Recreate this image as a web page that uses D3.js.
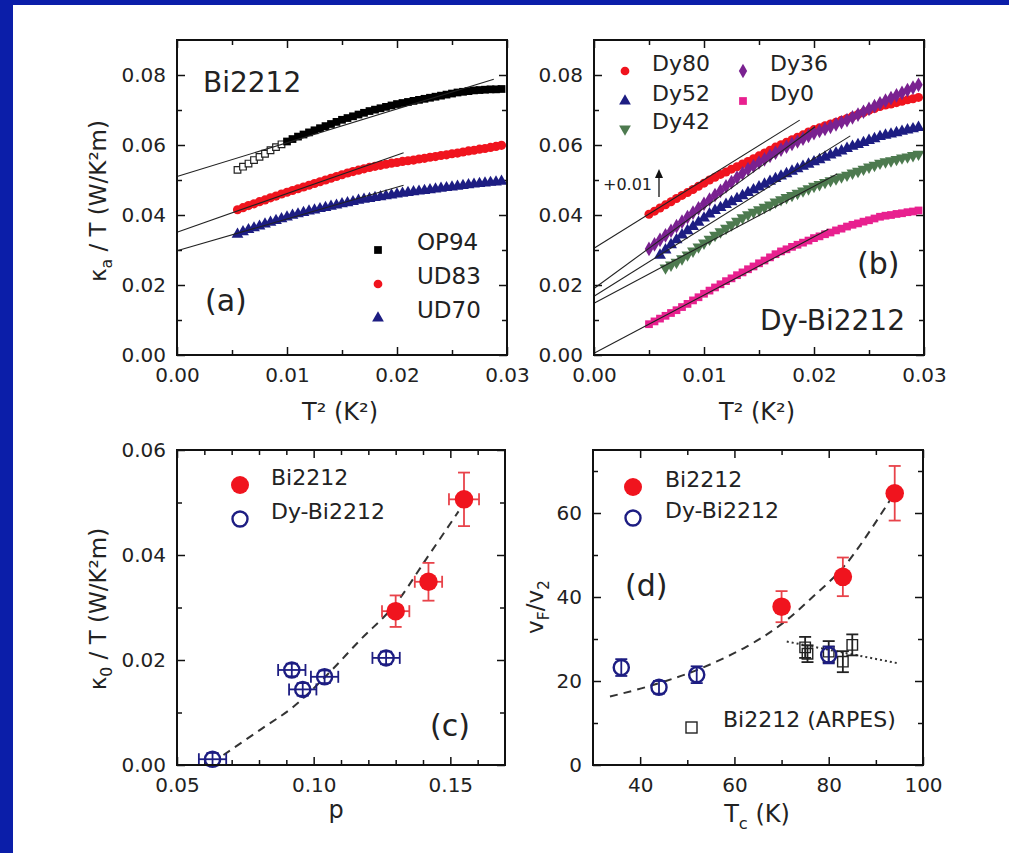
<!DOCTYPE html>
<meta charset="utf-8">
<style>
body { margin: 0; background: #fff; }
svg { display: block; font-family: "DejaVu Sans", sans-serif; }
.tick line { stroke: #111; stroke-width: 1.5; }
.tick text { font-family: "DejaVu Sans", sans-serif; font-size: 20px; fill: #222; }
.lbl { font-family: "DejaVu Sans", sans-serif; fill: #222; }
</style>
<svg width="1009" height="853"></svg>
<script src="https://d3js.org/d3.v7.min.js"></script>
<script>

// ---- panel (a): kappa_a/T vs T^2, Bi2212
var t2A = [0.0055,0.0060,0.0065,0.0070,0.0075,0.0080,0.0085,0.0090,0.0095,0.0100,
  0.0105,0.0110,0.0115,0.0120,0.0125,0.0130,0.0135,0.0140,0.0145,0.0150,
  0.0155,0.0160,0.0165,0.0170,0.0175,0.0180,0.0185,0.0190,0.0195,0.0200,
  0.0205,0.0210,0.0215,0.0220,0.0225,0.0230,0.0235,0.0240,0.0245,0.0250,
  0.0255,0.0260,0.0265,0.0270,0.0275,0.0280,0.0285,0.0290,0.0295];
var kOP94open = [0.0529,0.0538,0.0547,0.0557,0.0566,0.0575,0.0585,0.0594,0.0602];
var kOP94 = [0.0610,0.0617,0.0624,0.0630,0.0636,0.0642,0.0648,0.0654,0.0660,0.0666,
  0.0672,0.0677,0.0682,0.0687,0.0692,0.0697,0.0701,0.0705,0.0709,0.0713,
  0.0717,0.0720,0.0723,0.0726,0.0729,0.0732,0.0735,0.0738,0.0741,0.0744,
  0.0747,0.0750,0.0752,0.0754,0.0756,0.0757,0.0758,0.0759,0.0759,0.0760];
var kUD83 = [0.0415,0.0421,0.0427,0.0432,0.0438,0.0443,0.0449,0.0454,0.0460,
  0.0465,0.0470,0.0475,0.0480,0.0485,0.0490,0.0495,0.0500,0.0505,0.0510,
  0.0515,0.0520,0.0524,0.0528,0.0532,0.0536,0.0539,0.0542,0.0545,0.0548,
  0.0550,0.0553,0.0555,0.0557,0.0560,0.0562,0.0565,0.0567,0.0570,0.0572,
  0.0575,0.0577,0.0580,0.0583,0.0585,0.0588,0.0590,0.0593,0.0596,0.0599];
var kUD70 = [0.0345,0.0352,0.0358,0.0363,0.0368,0.0374,0.0379,0.0384,0.0389,
  0.0394,0.0399,0.0403,0.0407,0.0411,0.0414,0.0418,0.0421,0.0425,0.0428,
  0.0432,0.0435,0.0438,0.0442,0.0445,0.0447,0.0450,0.0452,0.0455,0.0457,
  0.0460,0.0462,0.0464,0.0466,0.0468,0.0470,0.0472,0.0474,0.0476,0.0478,
  0.0480,0.0482,0.0484,0.0486,0.0488,0.0490,0.0491,0.0493,0.0494,0.0496];
// fit lines: [x0, y0, x1, y1]
var fitsA = [[0, 0.0510, 0.0288, 0.0788], [0, 0.0351, 0.0206, 0.0578], [0, 0.0298, 0.0206, 0.0485]];

// ---- panel (b): Dy-Bi2212
var t2B = [0.0050,0.0055,0.0060,0.0065,0.0070,0.0075,0.0080,0.0085,0.0090,0.0095,
  0.0100,0.0105,0.0110,0.0115,0.0120,0.0125,0.0130,0.0135,0.0140,0.0145,
  0.0150,0.0155,0.0160,0.0165,0.0170,0.0175,0.0180,0.0185,0.0190,0.0195,
  0.0200,0.0205,0.0210,0.0215,0.0220,0.0225,0.0230,0.0235,0.0240,0.0245,
  0.0250,0.0255,0.0260,0.0265,0.0270,0.0275,0.0280,0.0285,0.0290,0.0295];
var kDy80 = [0.0402,0.0411,0.0420,0.0429,0.0438,0.0447,0.0456,0.0464,0.0473,0.0482,
  0.0491,0.0500,0.0508,0.0516,0.0523,0.0531,0.0538,0.0546,0.0553,0.0561,
  0.0569,0.0577,0.0585,0.0594,0.0601,0.0608,0.0615,0.0622,0.0629,0.0637,
  0.0644,0.0649,0.0655,0.0660,0.0665,0.0671,0.0676,0.0682,0.0687,0.0693,
  0.0699,0.0704,0.0710,0.0714,0.0717,0.0721,0.0725,0.0729,0.0732,0.0736];
var kDy36 = [0.0303,0.0316,0.0329,0.0342,0.0355,0.0368,0.0381,0.0394,0.0407,0.0419,
  0.0432,0.0444,0.0457,0.0469,0.0482,0.0494,0.0507,0.0519,0.0531,0.0540,
  0.0550,0.0559,0.0569,0.0578,0.0587,0.0595,0.0603,0.0610,0.0618,0.0626,
  0.0634,0.0640,0.0646,0.0652,0.0659,0.0665,0.0671,0.0679,0.0687,0.0695,
  0.0703,0.0711,0.0719,0.0727,0.0734,0.0742,0.0749,0.0757,0.0764,0.0772];
var kDy52 = [0.0285,0.0300,0.0315,0.0329,0.0343,0.0355,0.0367,0.0379,
  0.0391,0.0403,0.0413,0.0421,0.0430,0.0438,0.0447,0.0455,0.0464,0.0472,
  0.0480,0.0488,0.0496,0.0504,0.0511,0.0518,0.0525,0.0532,0.0539,0.0545,
  0.0552,0.0558,0.0565,0.0571,0.0577,0.0583,0.0590,0.0596,0.0601,0.0607,
  0.0613,0.0618,0.0624,0.0628,0.0631,0.0635,0.0639,0.0643,0.0646,0.0650];
var kDy42 = [0.0249,0.0257,0.0265,0.0275,0.0286,0.0297,0.0309,
  0.0320,0.0331,0.0342,0.0352,0.0362,0.0372,0.0382,0.0392,0.0401,0.0408,
  0.0415,0.0422,0.0429,0.0437,0.0444,0.0450,0.0456,0.0462,0.0469,0.0475,
  0.0482,0.0487,0.0493,0.0498,0.0503,0.0509,0.0514,0.0520,0.0525,0.0531,
  0.0537,0.0542,0.0548,0.0552,0.0555,0.0559,0.0563,0.0566,0.0570,0.0574];
var kDy0 = [0.0088,0.0096,0.0104,0.0112,0.0120,0.0128,0.0137,0.0146,0.0156,0.0165,
  0.0175,0.0184,0.0193,0.0202,0.0211,0.0219,0.0228,0.0236,0.0245,0.0253,
  0.0262,0.0270,0.0279,0.0288,0.0296,0.0302,0.0309,0.0315,0.0321,0.0327,
  0.0334,0.0339,0.0345,0.0350,0.0356,0.0361,0.0367,0.0372,0.0376,0.0381,
  0.0385,0.0390,0.0395,0.0398,0.0400,0.0403,0.0405,0.0408,0.0410,0.0413];
var fitsB = [[0, 0.0305, 0.0187, 0.0671], [0, 0.0190, 0.0201, 0.0652], [0, 0.0168, 0.0233, 0.0626],
  [0, 0.0148, 0.0221, 0.0517], [0, 0.0005, 0.0213, 0.0359]];

// ---- panel (c): kappa_0/T vs p
var pBi = [0.130, 0.142, 0.155];
var k0Bi = [0.0293, 0.0349, 0.0506];
var k0BiErr = [0.0030, 0.0036, 0.0051];
var pBiErr = [0.005, 0.005, 0.0055];
var pDy = [0.063, 0.092, 0.096, 0.104, 0.1265];
var k0Dy = [0.0011, 0.0181, 0.0144, 0.0168, 0.0204];
var k0DyErr = [0.0012, 0.0012, 0.0012, 0.0012, 0.0012];
var pDyErr = [0.005, 0.005, 0.005, 0.005, 0.005];
var pFit = [0.067, 0.0804, 0.0926, 0.1048, 0.117, 0.1292, 0.1414, 0.153];
var k0Fit = [0.0019, 0.0067, 0.0111, 0.0171, 0.0238, 0.0302, 0.0394, 0.0483];

// ---- panel (d): vF/v2 vs Tc
var tcBi = [70, 83, 94];
var vBi = [37.7, 44.8, 64.7];
var vBiErr = [3.7, 4.6, 6.5];
var tcDy = [36, 44, 52, 80];
var vDy = [23.2, 18.5, 21.5, 26.2];
var vDyErr = [2, 1.5, 2, 2];
var tcArpes = [75, 75.5, 80, 83, 85];
var vArpes = [28.0, 26.5, 27.0, 24.6, 28.6];
var vArpesErr = [2.5, 2, 2.5, 2.5, 2.5];
var tcFit = [33.6, 41.4, 52.0, 62.6, 69.7, 76.7, 83.8, 93.7];
var vFit = [16.3, 18.6, 22.6, 28.2, 33.3, 40.1, 48.0, 64.3];
var tcDot = [71.1, 94.8];
var vDot = [29.4, 24.2];

var RED = "#f0141e", RED_ERR = "#e8434a", NAVY = "#1d1d82", GREEN = "#4d7a4f",
    PURPLE = "#7a2190", PINK = "#e8208f";

var svg = d3.select("svg");

// blue slide border
svg.append("rect").attr("x", 0).attr("y", 0).attr("width", 1009).attr("height", 5).attr("fill", "#0b1ea9");
svg.append("rect").attr("x", 0).attr("y", 0).attr("width", 13).attr("height", 853).attr("fill", "#0b1ea9");

function zip(xs, ys, offset) {
  return ys.map(function(v, i) { return [xs[i + offset], v]; });
}

function makePanel(box, xDom, yDom, xMaj, xMin, yMaj, yMin, xFmt, yFmt) {
  var w = box.r - box.l, h = box.b - box.t;
  var g = svg.append("g").attr("transform", "translate(" + box.l + "," + box.t + ")");
  var x = d3.scaleLinear().domain(xDom).range([0, w]);
  var y = d3.scaleLinear().domain(yDom).range([h, 0]);

  // minor ticks on all four sides
  g.append("g").attr("transform", "translate(0," + h + ")")
    .call(d3.axisBottom(x).tickValues(xMin).tickSize(-5).tickFormat(""));
  g.append("g").call(d3.axisTop(x).tickValues(xMin).tickSize(-5).tickFormat(""));
  g.append("g").call(d3.axisLeft(y).tickValues(yMin).tickSize(-5).tickFormat(""));
  g.append("g").attr("transform", "translate(" + w + ",0)")
    .call(d3.axisRight(y).tickValues(yMin).tickSize(-5).tickFormat(""));

  // major ticks
  g.append("g").attr("transform", "translate(0," + h + ")")
    .call(d3.axisBottom(x).tickValues(xMaj).tickSize(-8).tickPadding(13).tickFormat(xFmt));
  g.append("g").call(d3.axisTop(x).tickValues(xMaj).tickSize(-8).tickFormat(""));
  g.append("g").call(d3.axisLeft(y).tickValues(yMaj).tickSize(-8).tickPadding(11).tickFormat(yFmt));
  g.append("g").attr("transform", "translate(" + w + ",0)")
    .call(d3.axisRight(y).tickValues(yMaj).tickSize(-8).tickFormat(""));

  g.selectAll(".domain").remove();
  g.selectAll(".tick text").attr("fill", null);

  var plot = g.append("g");
  g.append("rect").attr("width", w).attr("height", h)
    .attr("fill", "none").attr("stroke", "#111").attr("stroke-width", 2);
  return { g: g, plot: plot, x: x, y: y, w: w, h: h };
}

function text(g, x, y, parts, size, anchor, rotate) {
  var t = g.append("text").attr("class", "lbl")
    .attr("font-size", size)
    .attr("text-anchor", anchor || "start");
  if (rotate) t.attr("transform", "translate(" + x + "," + y + ") rotate(-90)");
  else t.attr("x", x).attr("y", y);
  var shift = 0;
  parts.forEach(function(p) {
    var s = t.append("tspan").text(p[0]);
    var want = p[1] === "sub" ? size * 0.28 : 0;
    if (p[1] === "sub") s.attr("font-size", size * 0.68);
    s.attr("dy", want - shift);
    shift = want;
  });
  return t;
}

function symbols(p, pts, type, size, fill, stroke, rot) {
  return p.plot.append("g").selectAll("path")
    .data(pts)
    .enter().append("path")
    .attr("transform", function(d) {
      return "translate(" + p.x(d[0]) + "," + p.y(d[1]) + ")" + (rot ? " rotate(" + rot + ")" : "");
    })
    .attr("d", d3.symbol().type(type).size(size))
    .attr("fill", fill)
    .attr("stroke", stroke || "none")
    .attr("stroke-width", stroke ? 1.2 : 0);
}

function fitLines(p, fits) {
  p.plot.append("g").selectAll("line")
    .data(fits)
    .enter().append("line")
    .attr("x1", function(d) { return p.x(d[0]); })
    .attr("y1", function(d) { return p.y(d[1]); })
    .attr("x2", function(d) { return p.x(d[2]); })
    .attr("y2", function(d) { return p.y(d[3]); })
    .attr("stroke", "#222").attr("stroke-width", 1.1);
}

function errBars(p, xs, ys, ye, xe, color) {
  var g = p.plot.append("g").attr("stroke", color).attr("stroke-width", 1.8).attr("fill", "none");
  xs.forEach(function(xv, i) {
    var cx = p.x(xv), cy = p.y(ys[i]);
    var y0 = p.y(ys[i] - ye[i]), y1 = p.y(ys[i] + ye[i]);
    g.append("line").attr("x1", cx).attr("x2", cx).attr("y1", y0).attr("y2", y1);
    g.append("line").attr("x1", cx - 6).attr("x2", cx + 6).attr("y1", y0).attr("y2", y0);
    g.append("line").attr("x1", cx - 6).attr("x2", cx + 6).attr("y1", y1).attr("y2", y1);
    if (xe) {
      var x0 = p.x(xv - xe[i]), x1 = p.x(xv + xe[i]);
      g.append("line").attr("x1", x0).attr("x2", x1).attr("y1", cy).attr("y2", cy);
      g.append("line").attr("x1", x0).attr("x2", x0).attr("y1", cy - 6).attr("y2", cy + 6);
      g.append("line").attr("x1", x1).attr("x2", x1).attr("y1", cy - 6).attr("y2", cy + 6);
    }
  });
}

var f2 = d3.format(".2f");
var t2Maj = [0, 0.01, 0.02, 0.03], t2Min = [0.005, 0.015, 0.025];
var kMaj = [0, 0.02, 0.04, 0.06, 0.08], kMin = [0.01, 0.03, 0.05, 0.07];

// ================= (a)
var A = makePanel({ l: 177, r: 507, t: 40, b: 355 }, [0, 0.03], [0, 0.09],
  t2Maj, t2Min, kMaj, kMin, f2, f2);
symbols(A, zip(t2A, kUD70, 0), d3.symbolTriangle, 60, NAVY);
symbols(A, zip(t2A, kUD83, 0), d3.symbolCircle, 66, RED);
symbols(A, zip(t2A, kOP94open, 0), d3.symbolSquare, 44, "#fff", "#222");
symbols(A, zip(t2A, kOP94, t2A.length - kOP94.length), d3.symbolSquare, 60, "#000");
fitLines(A, fitsA);

text(A.g, 26, 52, [["Bi2212"]], 28);
text(A.g, 28, 271, [["(a)"]], 30);
var legA = [["OP94", d3.symbolSquare, "#000"], ["UD83", d3.symbolCircle, RED], ["UD70", d3.symbolTriangle, NAVY]];
legA.forEach(function(d, i) {
  var cy = 210 + i * 34;
  A.g.append("path").attr("transform", "translate(201," + cy + ")")
    .attr("d", d3.symbol().type(d[1]).size(60)).attr("fill", d[2]);
  text(A.g, 240, cy, [[d[0]]], 23).attr("dy", "0.36em");
});

// ================= (b)
var B = makePanel({ l: 594, r: 924, t: 40, b: 355 }, [0, 0.03], [0, 0.09],
  t2Maj, t2Min, kMaj, kMin, f2, f2);
symbols(B, zip(t2B, kDy0, t2B.length - kDy0.length), d3.symbolSquare, 60, PINK);
symbols(B, zip(t2B, kDy42, t2B.length - kDy42.length), d3.symbolTriangle, 62, GREEN, null, 180);
symbols(B, zip(t2B, kDy52, t2B.length - kDy52.length), d3.symbolTriangle, 62, NAVY);
symbols(B, zip(t2B, kDy80, t2B.length - kDy80.length), d3.symbolCircle, 64, RED);
symbols(B, zip(t2B, kDy36, t2B.length - kDy36.length), d3.symbolDiamond, 62, PURPLE);
fitLines(B, fitsB);

var legB = [["Dy80", d3.symbolCircle, RED, 0, 31, 0], ["Dy52", d3.symbolTriangle, NAVY, 0, 61, 0],
  ["Dy42", d3.symbolTriangle, GREEN, 0, 89, 180], ["Dy36", d3.symbolDiamond, PURPLE, 1, 31, 0],
  ["Dy0", d3.symbolSquare, PINK, 1, 61, 0]];
legB.forEach(function(d) {
  var mx = d[3] ? 149 : 31;
  B.g.append("path").attr("transform", "translate(" + mx + "," + d[4] + ") rotate(" + d[5] + ")")
    .attr("d", d3.symbol().type(d[1]).size(60)).attr("fill", d[2]);
  text(B.g, mx + 27, d[4], [[d[0]]], 22).attr("dy", "0.36em");
});
text(B.g, 263, 234, [["(b)"]], 30);
text(B.g, 166, 290, [["Dy-Bi2212"]], 28);
text(B.g, 9, 150, [["+0.01"]], 16);
B.g.append("line").attr("x1", 65).attr("x2", 65).attr("y1", 157).attr("y2", 136)
  .attr("stroke", "#111").attr("stroke-width", 1.3);
B.g.append("path").attr("d", "M61,138 L65,129 L69,138 Z").attr("fill", "#111");

// ================= (c)
var C = makePanel({ l: 177, r: 505, t: 450, b: 765 }, [0.05, 0.17], [0, 0.06],
  [0.05, 0.10, 0.15], [0.06, 0.07, 0.08, 0.09, 0.11, 0.12, 0.13, 0.14, 0.16],
  [0, 0.02, 0.04, 0.06], [0.01, 0.03, 0.05], f2, f2);
C.plot.append("path")
  .datum(zip(pFit, k0Fit, 0))
  .attr("d", d3.line().x(function(d) { return C.x(d[0]); }).y(function(d) { return C.y(d[1]); })
    .curve(d3.curveCatmullRom))
  .attr("fill", "none").attr("stroke", "#333").attr("stroke-width", 2).attr("stroke-dasharray", "8,6");
errBars(C, pDy, k0Dy, k0DyErr, pDyErr, NAVY);
symbols(C, zip(pDy, k0Dy, 0), d3.symbolCircle, 180, "none", NAVY).attr("stroke-width", 2.4);
errBars(C, pBi, k0Bi, k0BiErr, pBiErr, RED_ERR);
symbols(C, zip(pBi, k0Bi, 0), d3.symbolCircle, 270, RED);

C.g.append("circle").attr("cx", 63).attr("cy", 35).attr("r", 9).attr("fill", RED);
text(C.g, 94, 35, [["Bi2212"]], 22).attr("dy", "0.36em");
C.g.append("circle").attr("cx", 63).attr("cy", 69).attr("r", 7.5).attr("fill", "none")
  .attr("stroke", NAVY).attr("stroke-width", 2.4);
text(C.g, 94, 69, [["Dy-Bi2212"]], 22).attr("dy", "0.36em");
text(C.g, 253, 286, [["(c)"]], 30);

// ================= (d)
var D = makePanel({ l: 593, r: 923, t: 450, b: 765 }, [30, 100], [0, 75],
  [40, 60, 80, 100], [50, 70, 90], [0, 20, 40, 60], [10, 30, 50, 70],
  d3.format("d"), d3.format("d"));
D.plot.append("path")
  .datum(zip(tcFit, vFit, 0))
  .attr("d", d3.line().x(function(d) { return D.x(d[0]); }).y(function(d) { return D.y(d[1]); })
    .curve(d3.curveCatmullRom))
  .attr("fill", "none").attr("stroke", "#333").attr("stroke-width", 2).attr("stroke-dasharray", "8,6");
D.plot.append("path")
  .datum(zip(tcDot, vDot, 0))
  .attr("d", d3.line().x(function(d) { return D.x(d[0]); }).y(function(d) { return D.y(d[1]); }))
  .attr("fill", "none").attr("stroke", "#333").attr("stroke-width", 2).attr("stroke-dasharray", "2,3");
errBars(D, tcArpes, vArpes, vArpesErr, null, "#222");
symbols(D, zip(tcArpes, vArpes, 0), d3.symbolSquare, 110, "none", "#222").attr("stroke-width", 1.4);
errBars(D, tcDy, vDy, vDyErr, null, NAVY);
symbols(D, zip(tcDy, vDy, 0), d3.symbolCircle, 180, "none", NAVY).attr("stroke-width", 2.4);
errBars(D, tcBi, vBi, vBiErr, null, RED_ERR);
symbols(D, zip(tcBi, vBi, 0), d3.symbolCircle, 270, RED);

D.g.append("circle").attr("cx", 40).attr("cy", 37).attr("r", 9).attr("fill", RED);
text(D.g, 72, 37, [["Bi2212"]], 22).attr("dy", "0.36em");
D.g.append("circle").attr("cx", 40).attr("cy", 68).attr("r", 7.5).attr("fill", "none")
  .attr("stroke", NAVY).attr("stroke-width", 2.4);
text(D.g, 72, 68, [["Dy-Bi2212"]], 22).attr("dy", "0.36em");
text(D.g, 32, 146, [["(d)"]], 30);
D.g.append("rect").attr("x", 93).attr("y", 272).attr("width", 11).attr("height", 11)
  .attr("fill", "none").attr("stroke", "#222").attr("stroke-width", 1.4);
text(D.g, 130, 277, [["Bi2212 (ARPES)"]], 22).attr("dy", "0.36em");

// ================= axis titles
text(svg, 106, 201, [["κ"], ["a", "sub"], [" / T (W/K²m)"]], 23, "middle", true);
text(svg, 340, 420, [["T² (K²)"]], 24, "middle");
text(svg, 757, 420, [["T² (K²)"]], 24, "middle");
text(svg, 106, 609, [["κ"], ["0", "sub"], [" / T (W/K²m)"]], 23, "middle", true);
text(svg, 336, 818, [["p"]], 24, "middle");
text(svg, 543, 607, [["v"], ["F", "sub"], ["/v"], ["2", "sub"]], 23, "middle", true);
text(svg, 757, 822, [["T"], ["c", "sub"], [" (K)"]], 24, "middle");

</script>
